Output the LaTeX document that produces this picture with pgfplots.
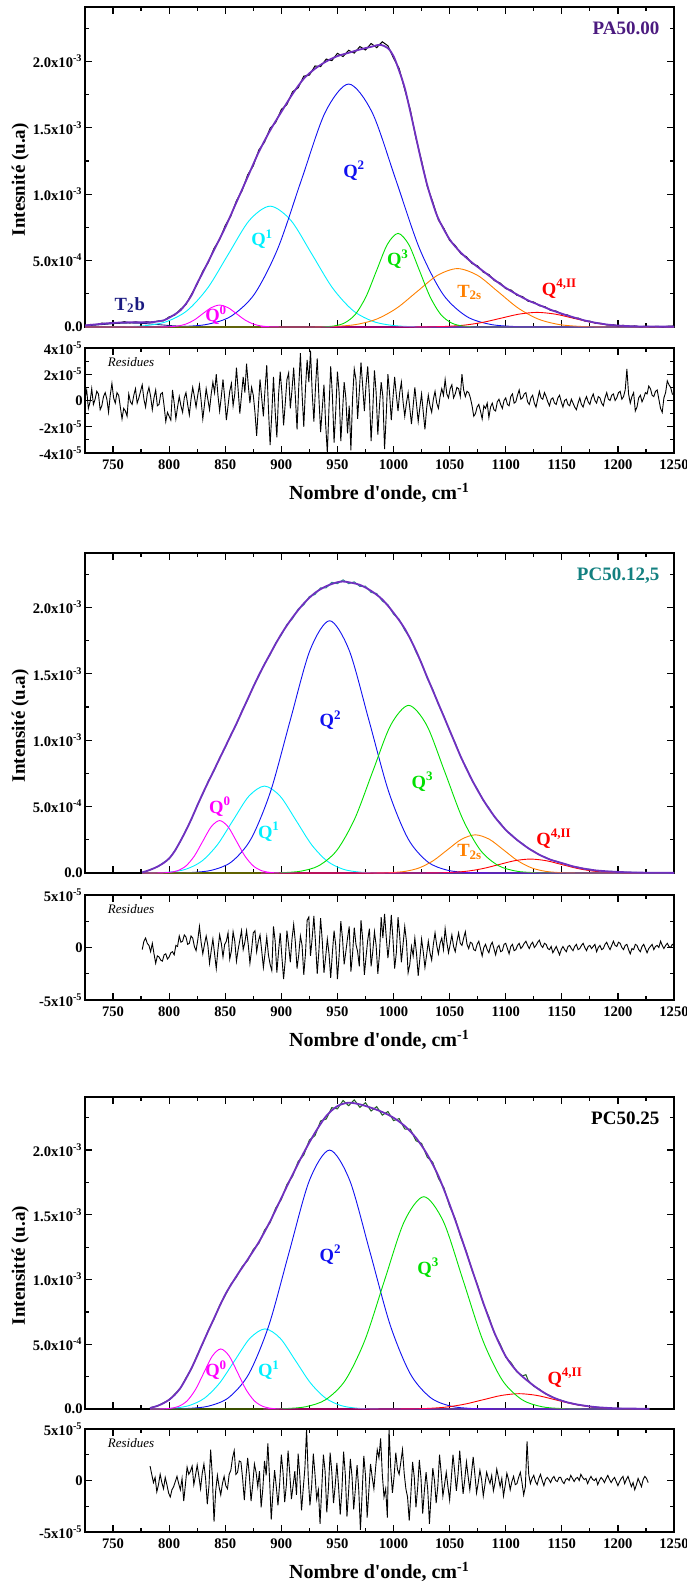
\documentclass[border=0pt]{standalone}
\usepackage{fontspec}
\setmainfont{Liberation Serif}
\newfontfamily\rawserif{Liberation Serif}[Ligatures=TeXOff]
\usepackage{pgfplots}
\pgfplotsset{compat=1.18}
\definecolor{cQ0}{HTML}{FF00FF}
\definecolor{cQ1}{HTML}{00F0FF}
\definecolor{cQ2}{HTML}{1010F0}
\definecolor{cQ3}{HTML}{00E000}
\definecolor{cT2s}{HTML}{FF8000}
\definecolor{cQ4}{HTML}{FF0000}
\definecolor{cT2b}{HTML}{1A1A80}
\definecolor{cfit}{HTML}{7030C0}
\definecolor{ctitleA}{HTML}{4B1A7F}
\definecolor{ctitleB}{HTML}{138080}
\definecolor{cdataB}{HTML}{2A8A8A}
\definecolor{cdataC}{HTML}{1F5F1F}
\tikzset{
  lab/.style={font=\fontsize{9.3}{10}\selectfont\bfseries},
  ttl/.style={font=\fontsize{9.5}{10}\selectfont\bfseries, anchor=north east},
  resi/.style={font=\fontsize{6.5}{7}\selectfont\itshape, anchor=west},
}
\pgfplotsset{
  base/.style={scale only axis, width=294.5pt, xmin=725, xmax=1250,
    axis line style={line width=0.8pt},
    tick align=inside, tick pos=both,
    major tick length=3.3pt, minor tick length=1.8pt,
    every tick/.style={line width=0.6pt, black},
    xtick={750,800,...,1250}, minor xtick={725,775,...,1225},
    tick label style={font=\fontsize{7.3}{8}\selectfont\bfseries},
    yticklabel style={inner sep=1pt},
    ylabel style={at={(axis description cs:-0.110,0.46)}, anchor=center,
      font=\fontsize{9.5}{10}\selectfont\bfseries},
    xlabel style={at={(axis description cs:0.5,0)}, yshift=-20pt, anchor=center,
      font=\fontsize{10}{11}\selectfont\bfseries},
  },
  mainax/.style={base, ymin=0, ymax=2.41, xticklabels={},
    ytick={0,0.5,1,1.5,2}, minor ytick={0.25,0.75,1.25,1.75,2.25},
    yticklabels={0.0,5.0x10\textsuperscript{-4},1.0x10\textsuperscript{-3},1.5x10\textsuperscript{-3},2.0x10\textsuperscript{-3}}},
  resax/.style={base,
    xticklabels={750,800,850,900,950,1000,1050,1100,1150,1200,1250},
    xlabel={Nombre d{\rawserif'}onde, cm\textsuperscript{-1}}},
  comp/.style={line width=0.45pt, smooth},
  fit/.style={cfit, line width=0.9pt, smooth},
  dat/.style={line width=0.5pt},
  res/.style={black, line width=0.45pt},
}
\begin{document}
\begin{tikzpicture}
\useasboundingbox (0,0) rectangle (343pt,-792pt);
% ================= PANEL 1 main =================
\begin{axis}[mainax, height=160pt, at={(42.5pt,-3.5pt)}, anchor=north west,
  ylabel={Intesnité (u.a)}]
\addplot[comp, cT2b] coordinates {(725,0.0083)(740,0.0182)(752.5,0.0265)(765,0.030)(777.5,0.0265)(790,0.0182)(802.5,0.0097)(815,0.0041)(827.5,0.0013)(840,0.0003)(860,0)(1250,0)};
\addplot[comp, cQ1] coordinates {(725,0)(742,0.0003)(760.5,0.0020)(779,0.0101)(797.5,0.0400)(816,0.1232)(834.5,0.2955)(853,0.5519)(871.5,0.8031)(890,0.91)(908.5,0.8031)(927,0.5519)(945.5,0.2955)(964,0.1232)(982.5,0.0400)(1001,0.0101)(1019.5,0.0020)(1038,0.0003)(1250,0)};
\addplot[comp, cQ2] coordinates {(725,0)(792,0.0006)(813,0.0040)(834,0.0203)(855,0.0803)(876,0.2476)(897,0.5942)(918,1.1099)(939,1.6150)(960,1.83)(981,1.6150)(1002,1.1099)(1023,0.5942)(1044,0.2476)(1065,0.0803)(1086,0.0203)(1107,0.0040)(1128,0.0006)(1250,0)};
\addplot[comp, cT2s] coordinates {(725,0)(913,0)(931,0.0010)(949,0.0049)(967,0.0193)(985,0.0595)(1003,0.1429)(1021,0.2669)(1039,0.3883)(1057,0.44)(1075,0.3883)(1093,0.2669)(1111,0.1429)(1129,0.0595)(1147,0.0193)(1165,0.0049)(1183,0.0010)(1201,0)(1250,0)};
\addplot[comp, cQ4] coordinates {(725,0)(1000,0)(1016,0.0002)(1032,0.0012)(1048,0.0048)(1064,0.0149)(1080,0.0357)(1096,0.0667)(1112,0.0971)(1128,0.11)(1144,0.0971)(1160,0.0667)(1176,0.0357)(1192,0.0149)(1208,0.0048)(1224,0.0012)(1240,0.0002)(1250,0)};
\addplot[comp, cQ3] coordinates {(725,0)(928,0)(937.5,0.0016)(947,0.0078)(956.5,0.0310)(966,0.0954)(975.5,0.2289)(985,0.4276)(994.5,0.6222)(1004,0.705)(1013.5,0.6222)(1023,0.4276)(1032.5,0.2289)(1042,0.0954)(1051.5,0.0310)(1061,0.0078)(1070.5,0.0016)(1080,0)(1250,0)};
\addplot[comp, cQ0] coordinates {(725,0)(785,0)(792.5,0.0004)(800,0.0018)(807.5,0.0072)(815,0.0223)(822.5,0.0536)(830,0.1001)(837.5,0.1456)(845,0.165)(852.5,0.1456)(860,0.1001)(867.5,0.0536)(875,0.0223)(882.5,0.0072)(890,0.0018)(897.5,0.0004)(905,0)(1250,0)};
\addplot[dat, black] coordinates {(725,0.010)(730,0.019)(735,0.017)(740,0.029)(745,0.025)(750,0.034)(755,0.030)(760,0.040)(765,0.031)(770,0.039)(775,0.032)(780,0.040)(785,0.034)(790,0.045)(795,0.047)(800,0.076)(805,0.090)(810,0.132)(815,0.170)(820,0.248)(825,0.322)(830,0.421)(835,0.487)(840,0.592)(845,0.658)(850,0.764)(855,0.836)(860,0.951)(865,1.026)(870,1.146)(875,1.214)(880,1.334)(885,1.392)(890,1.497)(895,1.541)(900,1.638)(905,1.676)(910,1.772)(915,1.801)(920,1.889)(925,1.897)(930,1.966)(935,1.961)(940,2.018)(945,2.006)(950,2.061)(955,2.037)(960,2.084)(965,2.063)(970,2.112)(975,2.086)(980,2.135)(985,2.104)(990,2.148)(995,2.118)(1000,2.025)(1005,1.947)(1010,1.788)(1015,1.634)(1020,1.421)(1025,1.252)(1030,1.061)(1035,0.941)(1040,0.806)(1045,0.741)(1050,0.652)(1055,0.614)(1060,0.552)(1065,0.529)(1070,0.478)(1075,0.460)(1080,0.413)(1085,0.395)(1090,0.349)(1095,0.331)(1100,0.289)(1105,0.277)(1110,0.239)(1115,0.229)(1120,0.194)(1125,0.188)(1130,0.160)(1135,0.153)(1140,0.125)(1145,0.120)(1150,0.096)(1155,0.091)(1160,0.070)(1165,0.066)(1170,0.047)(1175,0.044)(1180,0.029)(1185,0.028)(1190,0.016)(1195,0.018)(1200,0.009)(1205,0.012)(1210,0.005)(1215,0.008)(1220,0.002)(1225,0.006)(1230,0.002)(1235,0.005)(1240,0.001)(1245,0.006)(1250,0.008)};
\addplot[fit] coordinates {(725,0.012)(735,0.020)(745,0.028)(755,0.033)(765,0.035)(775,0.035)(785,0.037)(795,0.050)(800,0.070)(805,0.095)(810,0.125)(815,0.175)(820,0.24)(825,0.33)(830,0.41)(840,0.58)(850,0.75)(860,0.94)(870,1.13)(880,1.32)(890,1.48)(900,1.62)(910,1.755)(920,1.87)(930,1.945)(940,2.0)(950,2.04)(960,2.065)(970,2.09)(980,2.11)(988,2.125)(995,2.10)(1000,2.04)(1005,1.93)(1010,1.80)(1015,1.62)(1020,1.43)(1025,1.24)(1030,1.07)(1035,0.93)(1040,0.815)(1050,0.66)(1060,0.56)(1070,0.485)(1080,0.42)(1090,0.355)(1100,0.295)(1110,0.245)(1120,0.20)(1130,0.165)(1140,0.13)(1150,0.10)(1160,0.074)(1170,0.05)(1180,0.032)(1190,0.019)(1200,0.011)(1215,0.005)(1235,0.003)(1250,0.003)};
\node[lab, text=cT2b] at (axis cs:765,0.165) {T\textsubscript{2}b};
\node[lab, text=cQ0] at (axis cs:842,0.09) {Q\textsuperscript{0}};
\node[lab, text=cQ1] at (axis cs:883,0.66) {Q\textsuperscript{1}};
\node[lab, text=cQ2] at (axis cs:965,1.175) {Q\textsuperscript{2}};
\node[lab, text=cQ3] at (axis cs:1004,0.51) {Q\textsuperscript{3}};
\node[lab, text=cT2s] at (axis cs:1068,0.26) {T\textsubscript{2s}};
\node[lab, text=cQ4] at (axis cs:1148,0.29) {Q\textsuperscript{4,II}};
\node[ttl, text=ctitleA] at (rel axis cs:0.987,0.975) {PA50.00};
\end{axis}
% ================= PANEL 1 residues =================
\begin{axis}[resax, height=52.5pt, at={(42.5pt,-174pt)}, anchor=north west,
  ymin=-4, ymax=4, ytick={-4,-2,0,2,4}, minor ytick={-3,-1,1,3},
  yticklabels={-4x10\textsuperscript{-5},-2x10\textsuperscript{-5},0,2x10\textsuperscript{-5},4x10\textsuperscript{-5}}]
\addplot[res] coordinates {(725,0.2)(726.5,0.8)(728,-0.6)(729.5,-0.1)(731,0.9)(732.5,-0.3)(734,0.1)(735.5,0.7)(737,0.5)(738.5,-0.7)(740,-0.4)(741.5,0.3)(743,0.6)(744.5,0.1)(746,-0.9)(747.5,0.4)(749,1.3)(750.5,0.2)(752,-0.2)(753.5,0.6)(755,0.4)(756.5,-0.5)(758,-1.4)(759.5,-0.6)(761,-0.8)(762.5,-1.2)(764,0.5)(765.5,-0.1)(767,-0.3)(768.5,0.4)(770,0.9)(771.5,-0.2)(773,0.2)(774.5,0.7)(776,1.2)(777.5,0.1)(779,-0.5)(780.5,0.5)(782,1.0)(783.5,0.3)(785,-0.7)(786.5,0.2)(788,0.8)(789.5,-0.4)(791,-0.3)(792.5,0.5)(794,0.6)(795.5,-0.4)(797,-1.6)(798.5,-0.9)(800,-1.2)(801.5,-1.5)(803,0.8)(804.5,-0.2)(806,-1.4)(807.5,-0.5)(809,0.3)(810.5,-0.4)(812,-0.9)(813.5,0.2)(815,0.6)(816.5,-0.3)(818,-1.1)(819.5,0.1)(821,1.0)(822.5,0.3)(824,-0.5)(825.5,0.4)(827,1.2)(828.5,0.0)(830,-1.4)(831.5,-0.3)(833,0.9)(834.5,0.1)(836,-0.7)(837.5,0.5)(839,1.4)(840.5,0.6)(842,2.0)(843.5,0.4)(845,-0.8)(846.5,0.3)(848,1.6)(849.5,0.2)(851,-1.5)(852.5,-0.4)(854,0.7)(855.5,1.3)(857,-0.4)(858.5,0.5)(860,2.5)(861.5,0.8)(863,-1.0)(864.5,0.4)(866,1.8)(867.5,0.6)(869,2.8)(870.5,1.2)(872,-0.2)(873.5,1.0)(875,0.4)(876.5,-0.9)(878,-2.7)(879.5,-0.5)(881,1.6)(882.5,0.2)(884,-1.2)(885.5,0.9)(887,2.7)(888.5,-0.6)(890,-3.4)(891.5,-1.0)(893,1.8)(894.5,-0.8)(896,-2.8)(897.5,0.4)(899,2.2)(900.5,0.6)(902,-1.9)(903.5,-0.2)(905,1.6)(906.5,2.1)(908,-0.6)(909.5,0.8)(911,2.5)(912.5,0.3)(914,-2.2)(915.5,1.0)(917,3.6)(918.5,0.5)(920,-2.0)(921.5,0.9)(923,3.1)(924.5,1.4)(926,3.8)(927.5,0.6)(929,-1.6)(930.5,1.1)(932,3.2)(933.5,0.2)(935,-2.4)(936.5,-0.6)(938,1.2)(939.5,-1.8)(941,-4.0)(942.5,-0.5)(944,2.6)(945.5,0.4)(947,-3.2)(948.5,-0.8)(950,2.2)(951.5,0.6)(953,-3.1)(954.5,-0.9)(956,1.4)(957.5,0.2)(959,-2.5)(960.5,-0.4)(962,-3.8)(963.5,0.2)(965,2.4)(966.5,1.6)(968,-1.4)(969.5,0.7)(971,2.9)(972.5,1.1)(974,-0.8)(975.5,1.2)(977,2.6)(978.5,0.4)(980,-3.1)(981.5,-0.7)(983,2.3)(984.5,0.6)(986,-2.6)(987.5,-0.4)(989,1.4)(990.5,0.3)(992,-3.7)(993.5,-1.1)(995,2.0)(996.5,0.5)(998,-1.5)(999.5,0.2)(1001,1.8)(1002.5,0.4)(1004,-0.8)(1005.5,0.6)(1007,1.4)(1008.5,-0.1)(1010,-1.2)(1011.5,-0.2)(1013,0.6)(1014.5,-0.6)(1016,-1.8)(1017.5,-0.4)(1019,1.0)(1020.5,-0.3)(1022,-1.6)(1023.5,-0.5)(1025,0.5)(1026.5,-0.9)(1028,-2.2)(1029.5,-0.6)(1031,0.4)(1032.5,-0.4)(1034,-0.9)(1035.5,0.1)(1037,0.7)(1038.5,-0.2)(1040,-0.6)(1041.5,0.3)(1043,0.9)(1044.5,0.4)(1046,1.6)(1047.5,0.5)(1049,0.2)(1050.5,0.9)(1052,1.2)(1053.5,0.2)(1055,0.5)(1056.5,1.0)(1058,0.9)(1059.5,0.3)(1061,2.0)(1062.5,0.8)(1064,0.3)(1065.5,0.7)(1067,0.6)(1068.5,0.2)(1070,-0.4)(1071.5,-1.2)(1073,-1.0)(1074.5,-0.5)(1076,-0.3)(1077.5,-0.8)(1079,-1.4)(1080.5,-0.4)(1082,-0.6)(1083.5,-0.2)(1085,-1.3)(1086.5,-0.5)(1088,-0.2)(1089.5,-0.7)(1091,-0.8)(1092.5,-0.1)(1094,0.1)(1095.5,-0.3)(1097,-0.6)(1098.5,0.0)(1100,0.2)(1101.5,-0.3)(1103,-0.4)(1104.5,0.3)(1106,0.5)(1107.5,-0.2)(1109,-0.1)(1110.5,0.4)(1112,0.8)(1113.5,0.1)(1115,0.2)(1116.5,0.5)(1118,0.6)(1119.5,-0.1)(1121,-0.3)(1122.5,0.2)(1124,0.4)(1125.5,-0.2)(1127,-0.5)(1128.5,0.1)(1130,0.7)(1131.5,0.2)(1133,0.1)(1134.5,0.6)(1136,0.3)(1137.5,-0.1)(1139,-0.4)(1140.5,0.1)(1142,0.2)(1143.5,-0.2)(1145,-0.3)(1146.5,0.2)(1148,0.4)(1149.5,-0.1)(1151,-0.5)(1152.5,0.0)(1154,0.1)(1155.5,-0.3)(1157,-0.4)(1158.5,0.1)(1160,-0.2)(1161.5,-0.5)(1163,-0.7)(1164.5,-0.2)(1166,0.2)(1167.5,-0.3)(1169,-0.5)(1170.5,0.0)(1172,0.3)(1173.5,-0.1)(1175,-0.3)(1176.5,0.2)(1178,0.5)(1179.5,0.0)(1181,-0.2)(1182.5,0.3)(1184,0.2)(1185.5,-0.2)(1187,-0.4)(1188.5,0.2)(1190,0.6)(1191.5,0.1)(1193,0.0)(1194.5,0.4)(1196,0.5)(1197.5,0.0)(1199,0.2)(1200.5,0.6)(1202,0.7)(1203.5,0.1)(1205,0.3)(1206.5,0.8)(1208,2.4)(1209.5,0.5)(1211,-0.2)(1212.5,0.3)(1214,0.6)(1215.5,-0.8)(1217,-0.5)(1218.5,0.2)(1220,0.4)(1221.5,-0.1)(1223,0.2)(1224.5,0.6)(1226,0.5)(1227.5,1.1)(1229,0.9)(1230.5,0.4)(1232,0.3)(1233.5,0.7)(1235,0.8)(1236.5,0.1)(1238,-0.6)(1239.5,-0.9)(1241,0.2)(1242.5,0.6)(1244,1.5)(1245.5,1.2)(1247,1.0)(1248.5,0.5)(1250,0.4)};
\node[resi] at (rel axis cs:0.027,0.867) {Residues};
\end{axis}
% ================= PANEL 2 main =================
\begin{axis}[mainax, height=160pt, at={(42.5pt,-276.5pt)}, anchor=north west,
  ylabel={Intensité (u.a)}]
\addplot[comp, cQ1] coordinates {(776,0.0003)(787,0.0014)(801,0.0073)(815,0.0288)(829,0.0886)(843,0.2127)(857,0.3973)(871,0.5780)(885,0.655)(899,0.5780)(913,0.3973)(927,0.2127)(941,0.0886)(955,0.0288)(969,0.0073)(983,0.0014)(997,0.0002)(1011,0)(1250,0)};
\addplot[comp, cQ2] coordinates {(776,0)(785.5,0.0001)(803,0.0006)(820.5,0.0042)(838,0.0211)(855.5,0.0834)(873,0.2571)(890.5,0.6169)(908,1.1524)(925.5,1.6768)(943,1.90)(960.5,1.6768)(978,1.1524)(995.5,0.6169)(1013,0.2571)(1030.5,0.0834)(1048,0.0211)(1065.5,0.0042)(1083,0.0006)(1100.5,0.0001)(1250,0)};
\addplot[comp, cT2s] coordinates {(776,0)(973,0)(985.5,0.0006)(998,0.0032)(1010.5,0.0126)(1023,0.0389)(1035.5,0.0933)(1048,0.1744)(1060.5,0.2537)(1073,0.2875)(1085.5,0.2537)(1098,0.1744)(1110.5,0.0933)(1123,0.0389)(1135.5,0.0126)(1148,0.0032)(1160.5,0.0006)(1173,0)(1250,0)};
\addplot[comp, cQ4] coordinates {(776,0)(1010,0)(1024,0.0002)(1038,0.0012)(1052,0.0046)(1066,0.0142)(1080,0.0341)(1094,0.0637)(1108,0.0927)(1122,0.105)(1136,0.0927)(1150,0.0637)(1164,0.0341)(1178,0.0142)(1192,0.0046)(1206,0.0012)(1220,0.0002)(1234,0)(1250,0)};
\addplot[comp, cQ3] coordinates {(776,0)(869.5,0)(885.5,0.0004)(901.5,0.0028)(917.5,0.0140)(933.5,0.0555)(949.5,0.1709)(965.5,0.4099)(981.5,0.7657)(997.5,1.1142)(1013.5,1.2625)(1029.5,1.1142)(1045.5,0.7657)(1061.5,0.4099)(1077.5,0.1709)(1093.5,0.0555)(1109.5,0.0140)(1125.5,0.0028)(1141.5,0.0004)(1157.5,0)(1250,0)};
\addplot[comp, cQ0] coordinates {(776,0)(785,0)(792.5,0.0009)(800,0.0044)(807.5,0.0173)(815,0.0535)(822.5,0.1282)(830,0.2396)(837.5,0.3486)(845,0.395)(852.5,0.3486)(860,0.2396)(867.5,0.1282)(875,0.0535)(882.5,0.0173)(890,0.0044)(897.5,0.0009)(905,0)(1250,0)};
\addplot[dat, cdataB] coordinates {(776,0.005)(780,0.013)(785,0.033)(790,0.047)(795,0.079)(800,0.106)(805,0.169)(810,0.236)(815,0.325)(820,0.405)(825,0.511)(830,0.594)(835,0.696)(840,0.769)(845,0.868)(850,0.944)(855,1.043)(860,1.119)(865,1.225)(870,1.303)(875,1.407)(880,1.484)(885,1.577)(890,1.643)(895,1.733)(900,1.792)(905,1.872)(910,1.916)(915,1.988)(920,2.020)(925,2.082)(930,2.098)(935,2.148)(940,2.148)(945,2.189)(950,2.179)(955,2.208)(960,2.179)(965,2.193)(970,2.158)(975,2.160)(980,2.113)(985,2.105)(990,2.048)(995,2.021)(1000,1.949)(1005,1.911)(1010,1.829)(1015,1.768)(1020,1.665)(1025,1.584)(1030,1.466)(1035,1.383)(1040,1.268)(1045,1.181)(1050,1.069)(1055,0.980)(1060,0.870)(1065,0.792)(1070,0.696)(1075,0.629)(1080,0.546)(1085,0.491)(1090,0.421)(1095,0.379)(1100,0.322)(1105,0.290)(1110,0.247)(1115,0.222)(1120,0.185)(1125,0.165)(1130,0.135)(1135,0.121)(1140,0.098)(1145,0.089)(1150,0.073)(1155,0.064)(1160,0.048)(1165,0.043)(1170,0.031)(1175,0.028)(1180,0.018)(1185,0.018)(1190,0.011)(1195,0.012)(1200,0.006)(1205,0.008)(1210,0.004)(1215,0.005)(1220,0.002)(1225,0.004)(1230,0.001)(1235,0.003)(1240,0.000)(1245,0.002)(1250,0.001)};
\addplot[fit] coordinates {(776,0.005)(780,0.015)(785,0.030)(790,0.05)(795,0.075)(800,0.11)(805,0.165)(810,0.24)(815,0.32)(820,0.41)(830,0.60)(840,0.775)(850,0.95)(860,1.125)(870,1.31)(880,1.49)(890,1.65)(900,1.80)(910,1.925)(920,2.03)(930,2.11)(940,2.16)(950,2.19)(955,2.195)(960,2.19)(970,2.17)(980,2.125)(990,2.06)(1000,1.96)(1010,1.84)(1020,1.675)(1030,1.475)(1040,1.275)(1050,1.075)(1060,0.875)(1070,0.70)(1080,0.55)(1090,0.425)(1100,0.325)(1110,0.25)(1120,0.1875)(1130,0.1375)(1140,0.10)(1150,0.075)(1160,0.05)(1170,0.0325)(1180,0.02)(1190,0.013)(1200,0.008)(1220,0.003)(1250,0.001)};
\node[lab, text=cQ0] at (axis cs:845.4,0.50) {Q\textsuperscript{0}};
\node[lab, text=cQ1] at (axis cs:889,0.31) {Q\textsuperscript{1}};
\node[lab, text=cQ2] at (axis cs:944,1.15) {Q\textsuperscript{2}};
\node[lab, text=cQ3] at (axis cs:1026,0.69) {Q\textsuperscript{3}};
\node[lab, text=cT2s] at (axis cs:1068,0.16) {T\textsubscript{2s}};
\node[lab, text=cQ4] at (axis cs:1143,0.26) {Q\textsuperscript{4,II}};
\node[ttl, text=ctitleB] at (rel axis cs:0.987,0.975) {PC50.12,5};
\end{axis}
% ================= PANEL 2 residues =================
\begin{axis}[resax, height=52.5pt, at={(42.5pt,-447.5pt)}, anchor=north west,
  ymin=-5, ymax=5, ytick={-5,0,5}, minor ytick={-2.5,2.5},
  yticklabels={-5x10\textsuperscript{-5},0,5x10\textsuperscript{-5}}]
\addplot[res] coordinates {(776,-0.2)(777.5,0.6)(779,0.9)(780.5,0.4)(782,0.2)(783.5,-0.4)(785,0.4)(786.5,-0.6)(788,-1.5)(789.5,-0.8)(791,-0.9)(792.5,-1.2)(794,-1.3)(795.5,-0.7)(797,-0.6)(798.5,-1.1)(800,-0.9)(801.5,-0.5)(803,-0.4)(804.5,-0.7)(806,0.2)(807.5,0.1)(809,1.1)(810.5,0.5)(812,0.6)(813.5,1.2)(815,1.0)(816.5,0.3)(818,0.4)(819.5,1.1)(821,0.9)(822.5,0.1)(824,-0.3)(825.5,0.7)(827,2.0)(828.5,0.5)(830,-0.6)(831.5,0.3)(833,1.1)(834.5,0.2)(836,-1.5)(837.5,-0.3)(839,0.8)(840.5,-0.6)(842,-2.0)(843.5,-0.2)(845,1.2)(846.5,0.4)(848,-0.9)(849.5,0.3)(851,0.6)(852.5,1.4)(854,-1.1)(855.5,-0.3)(857,1.5)(858.5,0.6)(860,-1.3)(861.5,-0.2)(863,0.7)(864.5,1.6)(866,-0.2)(867.5,0.5)(869,1.6)(870.5,0.3)(872,-1.5)(873.5,-0.2)(875,1.4)(876.5,1.6)(878,-0.4)(879.5,0.6)(881,1.2)(882.5,-0.3)(884,-1.9)(885.5,-0.5)(887,1.0)(888.5,-0.7)(890,-1.6)(891.5,-2.2)(893,2.0)(894.5,0.6)(896,-2.4)(897.5,-0.4)(899,1.4)(900.5,-0.9)(902,-3.0)(903.5,-1.2)(905,1.6)(906.5,0.2)(908,-1.4)(909.5,0.8)(911,2.2)(912.5,0.5)(914,-2.0)(915.5,-0.7)(917,1.1)(918.5,0.2)(920,-2.6)(921.5,-0.6)(923,2.6)(924.5,2.9)(926,-0.8)(927.5,0.9)(929,3.0)(930.5,0.4)(932,-2.5)(933.5,-0.3)(935,2.8)(936.5,0.6)(938,-2.4)(939.5,-0.9)(941,0.8)(942.5,-0.6)(944,-2.9)(945.5,-0.5)(947,1.6)(948.5,0.2)(950,-3.0)(951.5,-0.8)(953,2.5)(954.5,0.9)(956,-1.6)(957.5,-0.4)(959,0.9)(960.5,2.0)(962,-2.3)(963.5,-0.6)(965,1.9)(966.5,0.3)(968,-0.4)(969.5,-1.8)(971,2.6)(972.5,0.8)(974,-2.6)(975.5,-0.9)(977,0.7)(978.5,1.8)(980,-1.8)(981.5,-0.4)(983,1.5)(984.5,0.2)(986,-2.5)(987.5,-0.6)(989,2.9)(990.5,0.9)(992,3.2)(993.5,1.0)(995,-1.0)(996.5,0.6)(998,3.1)(999.5,0.8)(1001,-2.0)(1002.5,-0.5)(1004,2.9)(1005.5,1.1)(1007,-1.4)(1008.5,0.3)(1010,2.0)(1011.5,0.6)(1013,-2.4)(1014.5,-1.6)(1016,0.1)(1017.5,-0.8)(1019,0.9)(1020.5,-0.6)(1022,-2.7)(1023.5,-1.0)(1025,0.8)(1026.5,-0.4)(1028,-1.9)(1029.5,-0.7)(1031,0.6)(1032.5,-0.5)(1034,-1.2)(1035.5,0.3)(1037,1.4)(1038.5,0.2)(1040,-0.6)(1041.5,0.4)(1043,0.9)(1044.5,-0.2)(1046,1.8)(1047.5,0.5)(1049,-0.5)(1050.5,0.3)(1052,1.2)(1053.5,0.1)(1055,-0.4)(1056.5,0.6)(1058,1.4)(1059.5,0.4)(1061,0.2)(1062.5,0.9)(1064,1.5)(1065.5,0.3)(1067,-0.1)(1068.5,0.5)(1070,0.4)(1071.5,-0.2)(1073,-0.3)(1074.5,0.3)(1076,0.6)(1077.5,-0.1)(1079,-0.8)(1080.5,0.0)(1082,0.3)(1083.5,-0.2)(1085,-0.5)(1086.5,0.2)(1088,0.5)(1089.5,-0.1)(1091,-0.7)(1092.5,0.0)(1094,0.2)(1095.5,-0.4)(1097,-0.3)(1098.5,0.3)(1100,0.4)(1101.5,-0.1)(1103,-0.6)(1104.5,0.1)(1106,0.3)(1107.5,-0.3)(1109,-0.2)(1110.5,0.2)(1112,0.4)(1113.5,-0.1)(1115,0.1)(1116.5,0.4)(1118,0.6)(1119.5,0.2)(1121,-0.1)(1122.5,0.3)(1124,0.5)(1125.5,0.0)(1127,0.2)(1128.5,0.5)(1130,0.7)(1131.5,0.2)(1133,0.0)(1134.5,0.4)(1136,0.3)(1137.5,-0.1)(1139,-0.2)(1140.5,0.1)(1142,-0.5)(1143.5,-0.2)(1145,0.1)(1146.5,-0.3)(1148,-0.7)(1149.5,-0.2)(1151,0.1)(1152.5,-0.2)(1154,-0.4)(1155.5,0.1)(1157,0.2)(1158.5,-0.1)(1160,-0.3)(1161.5,0.1)(1163,0.3)(1164.5,-0.2)(1166,-0.1)(1167.5,0.2)(1169,0.4)(1170.5,0.0)(1172,-0.3)(1173.5,0.1)(1175,0.2)(1176.5,-0.1)(1178,0.1)(1179.5,0.3)(1181,-0.4)(1182.5,0.0)(1184,0.2)(1185.5,-0.2)(1187,-0.1)(1188.5,0.3)(1190,0.5)(1191.5,0.1)(1193,-0.2)(1194.5,0.2)(1196,0.6)(1197.5,0.2)(1199,0.1)(1200.5,0.5)(1202,0.4)(1203.5,0.0)(1205,-0.2)(1206.5,0.2)(1208,0.3)(1209.5,-0.2)(1211,-0.6)(1212.5,-0.1)(1214,-0.2)(1215.5,0.3)(1217,0.2)(1218.5,-0.2)(1220,-0.4)(1221.5,0.1)(1223,0.3)(1224.5,-0.1)(1226,-0.5)(1227.5,-0.1)(1229,0.1)(1230.5,0.3)(1232,-0.2)(1233.5,0.1)(1235,0.2)(1236.5,0.0)(1238,0.6)(1239.5,0.2)(1241,-0.1)(1242.5,0.2)(1244,0.4)(1245.5,0.1)(1247,0.0)(1248.5,0.3)(1250,0.2)};
\node[resi] at (rel axis cs:0.027,0.867) {Residues};
\end{axis}
% ================= PANEL 3 main =================
\begin{axis}[mainax, height=156pt, at={(42.5pt,-548.5pt)}, anchor=north west,
  ylabel={Intensitté (u.a)}]
\addplot[comp, cQ1] coordinates {(783,0.0004)(791,0.0014)(804.5,0.0069)(818,0.0272)(831.5,0.0838)(845,0.2010)(858.5,0.3754)(872,0.5463)(885.5,0.619)(899,0.5463)(912.5,0.3754)(926,0.2010)(939.5,0.0838)(953,0.0272)(966.5,0.0069)(980,0.0014)(993.5,0.0002)(1007,0)(1228,0)};
\addplot[comp, cQ2] coordinates {(783,0.0001)(799,0.0007)(817,0.0044)(835,0.0222)(853,0.0879)(871,0.2707)(889,0.6493)(907,1.2131)(925,1.7650)(943,2.0)(961,1.7650)(979,1.2131)(997,0.6493)(1015,0.2707)(1033,0.0879)(1051,0.0222)(1069,0.0044)(1087,0.0007)(1105,0)(1228,0)};
\addplot[comp, cQ4] coordinates {(783,0)(984,0)(1000,0.0003)(1016,0.0013)(1032,0.0052)(1048,0.0160)(1064,0.0385)(1080,0.0719)(1096,0.1046)(1112,0.1185)(1128,0.1046)(1144,0.0719)(1160,0.0385)(1176,0.0160)(1192,0.0052)(1208,0.0013)(1224,0.0003)(1228,0)};
\addplot[comp, cQ3] coordinates {(783,0)(869.5,0)(887,0.0006)(904.5,0.0036)(922,0.0182)(939.5,0.0721)(957,0.2220)(974.5,0.5324)(992,0.9947)(1009.5,1.4473)(1027,1.64)(1044.5,1.4473)(1062,0.9947)(1079.5,0.5324)(1097,0.2220)(1114.5,0.0721)(1132,0.0182)(1149.5,0.0036)(1167,0.0006)(1184.5,0)(1228,0)};
\addplot[comp, cQ0] coordinates {(783,0)(786,0)(793.5,0.0010)(801,0.0052)(808.5,0.0204)(816,0.0628)(823.5,0.1506)(831,0.2814)(838.5,0.4095)(846,0.464)(853.5,0.4095)(861,0.2814)(868.5,0.1506)(876,0.0628)(883.5,0.0204)(891,0.0052)(898.5,0.0010)(906,0)(1228,0)};
\addplot[dat, cdataC] coordinates {(783,0.008)(785,0.015)(790,0.024)(795,0.049)(800,0.069)(805,0.115)(810,0.158)(815,0.241)(820,0.312)(825,0.417)(830,0.505)(835,0.612)(840,0.694)(845,0.800)(850,0.878)(855,0.963)(860,1.019)(865,1.099)(870,1.147)(875,1.232)(880,1.281)(885,1.381)(890,1.440)(895,1.553)(900,1.619)(905,1.735)(910,1.797)(915,1.912)(920,1.962)(925,2.078)(930,2.112)(935,2.225)(940,2.240)(945,2.328)(950,2.318)(955,2.383)(960,2.343)(965,2.388)(970,2.330)(975,2.366)(980,2.302)(985,2.336)(990,2.270)(995,2.298)(1000,2.228)(1005,2.243)(1010,2.163)(1015,2.162)(1020,2.072)(1025,2.052)(1030,1.946)(1035,1.905)(1040,1.782)(1045,1.707)(1050,1.566)(1055,1.470)(1060,1.324)(1065,1.215)(1070,1.069)(1075,0.956)(1080,0.813)(1085,0.711)(1090,0.582)(1095,0.503)(1100,0.401)(1105,0.355)(1110,0.286)(1115,0.257)(1118,0.265)(1120,0.222)(1125,0.176)(1130,0.153)(1135,0.119)(1140,0.101)(1145,0.078)(1150,0.066)(1155,0.050)(1160,0.043)(1165,0.031)(1170,0.027)(1175,0.018)(1180,0.016)(1185,0.010)(1190,0.010)(1195,0.005)(1200,0.006)(1205,0.003)(1210,0.004)(1215,0.002)(1220,0.004)(1225,0.001)(1228,0.002)};
\addplot[fit] coordinates {(783,0.008)(785,0.012)(790,0.026)(795,0.045)(800,0.072)(805,0.11)(810,0.162)(815,0.235)(820,0.317)(825,0.41)(830,0.51)(840,0.70)(850,0.884)(860,1.026)(870,1.155)(880,1.29)(890,1.45)(900,1.63)(910,1.81)(920,1.98)(930,2.134)(940,2.263)(950,2.34)(960,2.366)(970,2.353)(980,2.327)(990,2.294)(1000,2.25)(1010,2.186)(1020,2.095)(1030,1.967)(1040,1.80)(1050,1.58)(1060,1.335)(1070,1.077)(1080,0.82)(1090,0.588)(1100,0.407)(1110,0.291)(1120,0.214)(1130,0.149)(1140,0.098)(1150,0.064)(1160,0.041)(1170,0.026)(1180,0.015)(1190,0.009)(1200,0.005)(1215,0.003)(1228,0.002)};
\node[lab, text=cQ0] at (axis cs:842,0.30) {Q\textsuperscript{0}};
\node[lab, text=cQ1] at (axis cs:889,0.30) {Q\textsuperscript{1}};
\node[lab, text=cQ2] at (axis cs:944,1.19) {Q\textsuperscript{2}};
\node[lab, text=cQ3] at (axis cs:1031,1.09) {Q\textsuperscript{3}};
\node[lab, text=cQ4] at (axis cs:1153,0.24) {Q\textsuperscript{4,II}};
\node[ttl, text=black] at (rel axis cs:0.987,0.975) {PC50.25};
\end{axis}
% ================= PANEL 3 residues =================
\begin{axis}[resax, height=51.5pt, at={(42.5pt,-714.5pt)}, anchor=north west,
  ymin=-5, ymax=5, ytick={-5,0,5}, minor ytick={-2.5,2.5},
  yticklabels={-5x10\textsuperscript{-5},0,5x10\textsuperscript{-5}}]
\addplot[res] coordinates {(783,1.4)(784.5,0.6)(786,-0.2)(787.5,0.3)(789,-1.1)(790.5,-0.4)(792,0.6)(793.5,-0.2)(795,-0.8)(796.5,0.3)(798,-0.4)(799.5,-1.2)(801,-1.6)(802.5,-0.9)(804,-0.6)(805.5,-0.1)(807,0.4)(808.5,-0.3)(810,-0.9)(811.5,0.2)(813,-2.0)(814.5,-0.4)(816,1.3)(817.5,0.6)(819,0.9)(820.5,1.4)(822,-0.4)(823.5,0.5)(825,1.5)(826.5,0.4)(828,-0.8)(829.5,0.7)(831,1.6)(832.5,0.2)(834,-2.3)(835.5,-0.5)(837,3.0)(838.5,0.4)(840,-4.0)(841.5,-1.0)(843,0.5)(844.5,-0.6)(846,-1.4)(847.5,-0.3)(849,0.4)(850.5,-0.5)(852,-0.8)(853.5,0.6)(855,1.0)(856.5,2.2)(858,2.9)(859.5,0.6)(861,0.8)(862.5,1.9)(864,1.8)(865.5,0.2)(867,-1.9)(868.5,0.4)(870,2.2)(871.5,0.5)(873,-2.0)(874.5,-0.4)(876,1.6)(877.5,0.8)(879,-0.6)(880.5,0.9)(882,-2.6)(883.5,-0.8)(885,1.9)(886.5,0.5)(888,3.6)(889.5,0.2)(891,-3.8)(892.5,-1.2)(894,1.0)(895.5,-0.6)(897,-2.4)(898.5,-0.3)(900,2.5)(901.5,0.8)(903,-2.1)(904.5,-0.4)(906,2.9)(907.5,0.7)(909,-1.8)(910.5,-0.5)(912,0.9)(913.5,-1.4)(915,2.6)(916.5,0.4)(918,-2.9)(919.5,-0.8)(921,1.2)(922.5,5.0)(924,0.3)(925.5,-2.4)(927,-0.6)(928.5,2.6)(930,0.6)(931.5,-1.8)(933,-0.9)(934.5,-4.2)(936,-0.8)(937.5,2.5)(939,0.9)(940.5,-3.1)(942,-0.7)(943.5,2.7)(945,0.8)(946.5,-2.2)(948,-0.5)(949.5,1.7)(951,-0.6)(952.5,-3.3)(954,-0.9)(955.5,2.8)(957,0.6)(958.5,-3.5)(960,-1.0)(961.5,2.1)(963,0.4)(964.5,-2.8)(966,-0.8)(967.5,1.5)(969,-0.9)(970.5,-4.8)(972,-1.3)(973.5,2.4)(975,0.5)(976.5,-3.6)(978,-1.0)(979.5,1.6)(981,0.3)(982.5,-0.8)(984,1.2)(985.5,3.0)(987,2.2)(988.5,4.1)(990,0.6)(991.5,-1.6)(993,-0.8)(994.5,-3.6)(996,5.0)(997.5,1.2)(999,-1.2)(1000.5,0.4)(1002,2.7)(1003.5,1.1)(1005,0.6)(1006.5,1.8)(1008,3.0)(1009.5,0.7)(1011,-0.8)(1012.5,-1.6)(1014,-3.9)(1015.5,-1.2)(1017,1.8)(1018.5,0.3)(1020,-2.6)(1021.5,-0.7)(1023,2.0)(1024.5,0.2)(1026,-3.2)(1027.5,-1.0)(1029,0.8)(1030.5,-0.9)(1032,-4.2)(1033.5,-1.4)(1035,1.2)(1036.5,0.0)(1038,-2.2)(1039.5,-0.5)(1041,2.5)(1042.5,0.7)(1044,-1.5)(1045.5,-0.4)(1047,0.8)(1048.5,-0.6)(1050,-1.9)(1051.5,0.2)(1053,2.5)(1054.5,0.9)(1056,-1.0)(1057.5,0.6)(1059,2.9)(1060.5,0.8)(1062,-1.3)(1063.5,0.1)(1065,1.8)(1066.5,0.4)(1068,-0.9)(1069.5,0.7)(1071,2.3)(1072.5,0.6)(1074,-1.2)(1075.5,-0.2)(1077,1.0)(1078.5,0.1)(1080,-1.5)(1081.5,-0.4)(1083,0.8)(1084.5,0.2)(1086,-0.3)(1087.5,0.5)(1089,-1.0)(1090.5,-0.2)(1092,1.1)(1093.5,0.3)(1095,-0.6)(1096.5,0.2)(1098,-1.5)(1099.5,-0.5)(1101,0.7)(1102.5,0.1)(1104,-0.9)(1105.5,-0.1)(1107,0.4)(1108.5,-0.4)(1110,-0.3)(1111.5,0.3)(1113,0.8)(1114.5,-0.2)(1116,-1.4)(1117.5,-0.6)(1119,3.8)(1120.5,0.6)(1122,-0.3)(1123.5,0.2)(1125,0.5)(1126.5,-0.1)(1128,-0.4)(1129.5,0.2)(1131,0.6)(1132.5,0.0)(1134,-0.5)(1135.5,0.1)(1137,0.3)(1138.5,0.1)(1140,-0.2)(1141.5,0.2)(1143,0.4)(1144.5,0.0)(1146,-0.1)(1147.5,0.3)(1149,0.3)(1150.5,-0.1)(1152,-0.3)(1153.5,0.1)(1155,0.2)(1156.5,0.0)(1158,0.5)(1159.5,0.2)(1161,-0.1)(1162.5,0.2)(1164,0.3)(1165.5,0.0)(1167,0.6)(1168.5,0.3)(1170,0.1)(1171.5,0.2)(1173,-0.3)(1174.5,0.1)(1176,0.4)(1177.5,0.1)(1179,0.0)(1180.5,0.2)(1182,-0.4)(1183.5,0.0)(1185,0.3)(1186.5,0.1)(1188,-0.2)(1189.5,0.2)(1191,0.5)(1192.5,0.1)(1194,-0.2)(1195.5,0.1)(1197,0.3)(1198.5,-0.1)(1200,-0.5)(1201.5,-0.1)(1203,0.2)(1204.5,0.4)(1206,-0.3)(1207.5,0.1)(1209,0.4)(1210.5,-0.1)(1212,-0.6)(1213.5,-0.2)(1215,-0.9)(1216.5,-0.4)(1218,0.2)(1219.5,-0.2)(1221,-0.6)(1222.5,0.1)(1224,0.4)(1225.5,0.2)(1227,-0.2)};
\node[resi] at (rel axis cs:0.027,0.867) {Residues};
\end{axis}
\end{tikzpicture}
\end{document}
